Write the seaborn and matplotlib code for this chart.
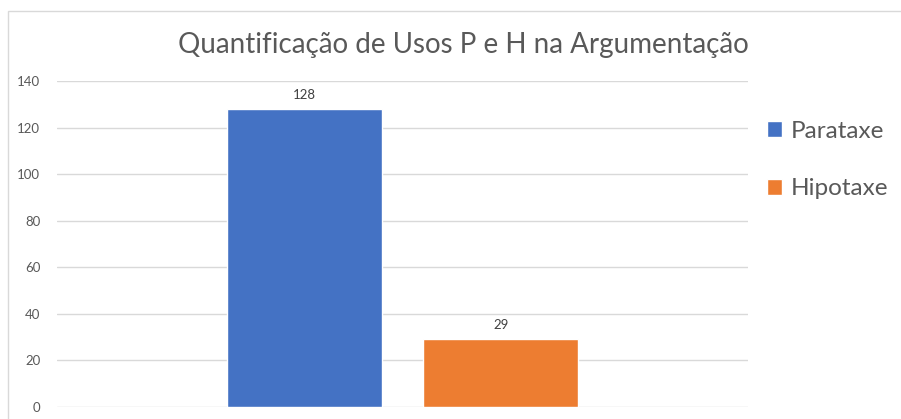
import pandas as pd
import matplotlib
matplotlib.use('Agg')
import matplotlib.pyplot as plt
import seaborn as sns
from matplotlib.patches import Rectangle

# chart data
category = ['Argumentação']
series = ['Parataxe', 'Hipotaxe']
values = [128, 29]
colors = ['#4472C4', '#ED7D31']
yticks = [0, 20, 40, 60, 80, 100, 120, 140]

df = pd.DataFrame({'cat': category * len(series), 'serie': series, 'valor': values})

sns.set_style('white')
plt.rcParams['font.family'] = ['Lato', 'DejaVu Sans']

fig = plt.figure(figsize=(9.01, 4.19), dpi=100)
ax = fig.add_axes([57 / 901, 12 / 419, 691 / 901, 326 / 419])

sns.barplot(data=df, x='cat', y='valor', hue='serie', palette=colors,
            width=0.8, gap=0.21, ax=ax, legend=True, saturation=1)

ax.set_xlim(-0.7035, 0.7035)
ax.set_ylim(0, 140)
ax.set_yticks(yticks)
ax.set_xticks([])
ax.set_xlabel('')
ax.set_ylabel('')
ax.grid(axis='y', color='#D9D9D9', linewidth=1)
ax.set_axisbelow(True)
for s in ax.spines.values():
    s.set_visible(False)
ax.tick_params(axis='y', length=0, labelsize=9.5, labelcolor='#595959', pad=12)

for cont in ax.containers:
    ax.bar_label(cont, padding=6, fontsize=9.5, color='#404040')

handles, labels = ax.get_legend_handles_labels()
ax.legend(handles, labels, loc='upper left', bbox_to_anchor=(757 / 901, 1 - 111 / 419),
          bbox_transform=fig.transFigure, frameon=False, fontsize=17.5,
          handlelength=0.62, handleheight=0.62, handletextpad=0.35,
          labelspacing=1.5, labelcolor='#595959', borderaxespad=0)

fig.text(463 / 901, 1 - 45 / 419, 'Quantificação de Usos P e H na Argumentação',
         ha='center', va='center', fontsize=20, color='#595959')

fig.patches.append(Rectangle((8 / 901, -0.1), 1.0, 1 - 11 / 419 + 0.1,
                             transform=fig.transFigure, fill=False,
                             edgecolor='#D9D9D9', linewidth=1))

fig.savefig('out.png', dpi=100)
